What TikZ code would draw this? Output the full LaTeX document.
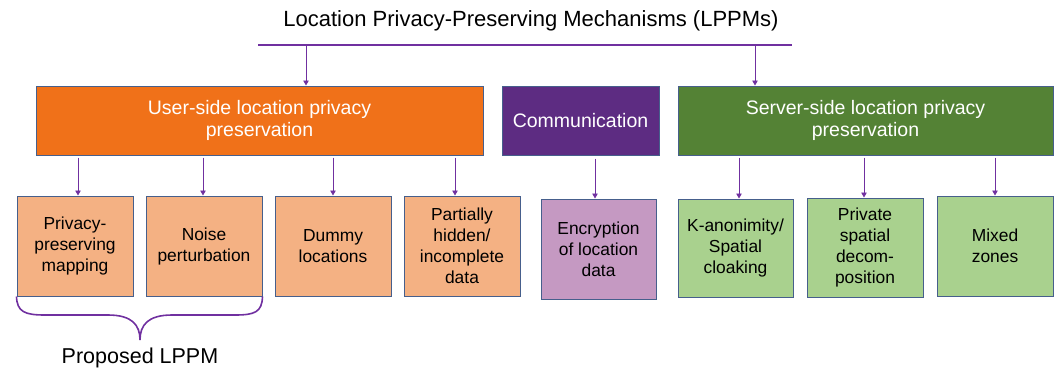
\documentclass[tikz,border=0pt]{standalone}
\usepackage{fontspec}
\setmainfont{Liberation Sans}
\usetikzlibrary{arrows.meta}
\definecolor{lporange}{RGB}{240,113,25}
\definecolor{lppurple}{RGB}{93,44,130}
\definecolor{lpgreen}{RGB}{84,130,53}
\definecolor{lplorange}{RGB}{244,177,131}
\definecolor{lplpurple}{RGB}{197,153,194}
\definecolor{lplgreen}{RGB}{169,209,142}
\definecolor{lpborder}{RGB}{70,95,140}
\definecolor{lparrow}{RGB}{112,48,160}
\tikzset{
  topbox/.style={draw=lpborder, line width=1pt, inner sep=0pt, text=white, align=center,
    font=\fontsize{19.5}{22.5}\selectfont},
  subbox/.style={draw=lpborder, line width=1pt, inner sep=0pt, text=black, align=center,
    font=\fontsize{17.4}{21}\selectfont},
  conn/.style={draw=lparrow, line width=0.8pt, -{Triangle[width=5.5pt,length=5pt]}},
  hline/.style={draw=lparrow, line width=1.6pt},
  brace/.style={draw=lparrow, line width=1.6pt}
}
\begin{document}
\begin{tikzpicture}[x=1pt,y=-1pt]
\useasboundingbox (0,0) rectangle (1056,369);
% title
\node[font=\fontsize{22}{26}\selectfont] (title) at (531,21) {Location Privacy-Preserving Mechanisms (LPPMs)};
\coordinate (hl) at (258,45);
\coordinate (hr) at (792,45);
\coordinate (ha) at (306,45);
\coordinate (hb) at (755,45);
\draw[hline] (hl) -- (hr);
% top level
\node[topbox, fill=lporange, minimum width=447pt, minimum height=69pt] (user) at (259.5,120.5) {User-side location privacy\\preservation};
\node[topbox, fill=lppurple, minimum width=157pt, minimum height=69pt] (comm) at (580.5,120.5) {Communication};
\node[topbox, fill=lpgreen, minimum width=375pt, minimum height=69pt] (server) at (865.5,120.5) {Server-side location privacy\\preservation};
\draw[conn] (ha) -- (ha |- user.north);
\draw[conn] (hb) -- (hb |- server.north);
% sub boxes
\node[subbox, fill=lplorange, minimum width=116pt, minimum height=100pt] (b1) at (75,246) {Privacy-\\preserving\\mapping};
\node[subbox, fill=lplorange, minimum width=116pt, minimum height=100pt] (b2) at (204,246) {Noise\\perturbation};
\node[subbox, fill=lplorange, minimum width=116pt, minimum height=100pt] (b3) at (333,246) {Dummy\\locations};
\node[subbox, fill=lplorange, minimum width=116pt, minimum height=100pt] (b4) at (462,246) {Partially\\hidden/\\incomplete\\data};
\node[subbox, fill=lplpurple, minimum width=115pt, minimum height=100pt] (enc) at (598.5,249) {Encryption\\of location\\data};
\node[subbox, fill=lplgreen, minimum width=115pt, minimum height=98pt] (kan) at (735.5,248) {K-anonimity/\\Spatial\\cloaking};
\node[subbox, fill=lplgreen, minimum width=116pt, minimum height=99pt] (priv) at (865,247.5) {Private\\spatial\\decom-\\position};
\node[subbox, fill=lplgreen, minimum width=116pt, minimum height=100pt] (mix) at (995,246) {Mixed\\zones};
% connectors from top boxes
\foreach \b/\x in {b1/78,b2/203,b3/333,b4/455}{
  \draw[conn] ([yshift=-2pt]user.south -| \x,0) -- (\b.north -| \x,0);
}
\draw[conn] ([yshift=-3pt]comm.south -| 595,0) -- (enc.north -| 595,0);
\foreach \b/\x in {kan/739,priv/864,mix/995}{
  \draw[conn] ([yshift=-2pt]server.south -| \x,0) -- (\b.north -| \x,0);
}
% brace
\coordinate (tip) at (140,340);
\draw[brace] (b1.south west) .. controls (17,312) and (25,315) .. (45,315)
  -- (108,315) .. controls (132,315) and (140,325) .. (tip)
  .. controls (140,325) and (148,315) .. (172,315)
  -- (235,315) .. controls (255,315) and (262,312) .. (b2.south east);
\node[font=\fontsize{21.5}{25}\selectfont] (prop) at (140,358) {Proposed LPPM};
\end{tikzpicture}
\end{document}
